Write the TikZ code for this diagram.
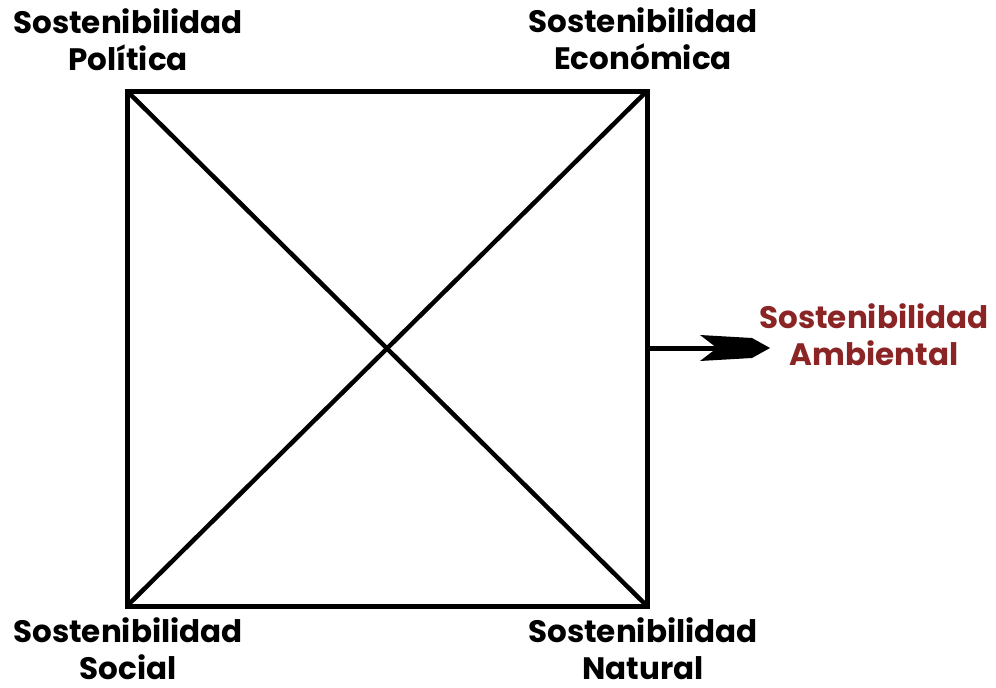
\documentclass[tikz,border=0pt]{standalone}
\usepackage{fontspec}
\setmainfont{Poppins}[BoldFont={* Bold}]
\definecolor{amb}{HTML}{8B2525}
\begin{document}
\begin{tikzpicture}[x=1pt,y=-1pt,
  lbl/.style={font=\bfseries\fontsize{31}{37}\selectfont, align=center, inner sep=0pt, anchor=base, text depth=0pt},
  edge/.style={line width=5pt, line cap=rect},
  diag/.style={line width=4.5pt}]
\useasboundingbox (0,0) rectangle (996,688);
\coordinate (tl) at (127,91);
\coordinate (tr) at (647,91);
\coordinate (bl) at (127,606);
\coordinate (br) at (647,606);
\draw[edge] (tl) -- (tr) -- (br) -- (bl) -- cycle;
\draw[diag] (tl) -- (br);
\draw[diag] (bl) -- (tr);
\coordinate (as) at (649,348);
\coordinate (ae) at (770,348);
\draw[line width=5pt] (as) -- ([xshift=-50pt]ae);
\fill (ae) -- ++(-18,-10) -- ++(-52,-3) -- ++(17,13) -- ++(-17,13) -- ++(52,-3) -- cycle;
\node[lbl, text=amb] (amb) at (874,365) {Sostenibilidad\\Ambiental};
\node[lbl] (pol) at (128,70) {Sostenibilidad\\Política};
\node[lbl] (eco) at (643,69) {Sostenibilidad\\Económica};
\node[lbl] (soc) at (128,679) {Sostenibilidad\\Social};
\node[lbl] (nat) at (643,679) {Sostenibilidad\\Natural};
\end{tikzpicture}
\end{document}
